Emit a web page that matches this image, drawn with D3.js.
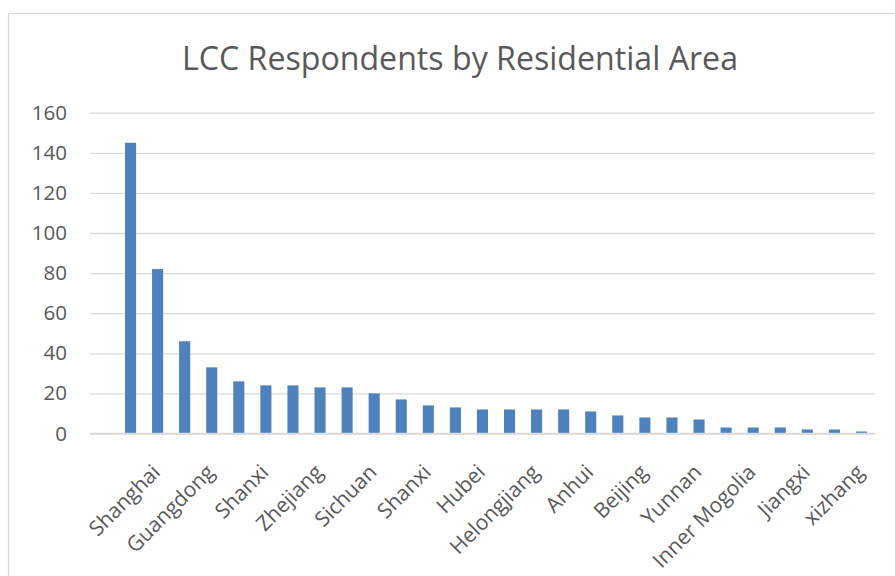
<!DOCTYPE html>
<html>
<head>
<meta charset="utf-8">
<script src="https://cdn.jsdelivr.net/npm/d3@7"></script>
<style>
  html, body { margin: 0; padding: 0; background: #fff; }
  svg { display: block; font-family: "Open Sans", sans-serif; }
</style>
</head>
<body>
<svg id="chart" width="895" height="576"></svg>
<script>
// Respondents per province (in the order they are ranked)
const regions = [
  "Shanghai", "Jiangsu", "Guangdong", "Shandong", "Shanxi", "Henan", "Zhejiang",
  "Hunan", "Sichuan", "Fujian", "Shanxi ", "Liaoning", "Hubei", "Hebei",
  "Helongjiang", "Chongqing", "Anhui", "Tianjin", "Beijing", "Guangxi", "Yunnan",
  "Jilin", "Inner Mogolia", "Guizhou", "Jiangxi", "Gansu", "xizhang", "Hainan"
];
const respondents = [
  145, 82, 46, 33, 26, 24, 24, 23, 23, 20, 17, 14, 13, 12,
  12, 12, 12, 11, 9, 8, 8, 7, 3, 3, 3, 2, 2, 1
];
const yTicks = [0, 20, 40, 60, 80, 100, 120, 140, 160];
const title = "LCC Respondents by Residential Area";

const svg = d3.select("#chart");

// outer chart frame
svg.append("rect")
  .attr("x", 8.5).attr("y", 13.5)
  .attr("width", 900).attr("height", 600)
  .attr("fill", "#fff").attr("stroke", "#d9d9d9").attr("stroke-width", 1.3);

const gridLeft = 90, gridRight = 875;
const x = d3.scaleBand().domain(d3.range(regions.length))
  .range([117, 875]).paddingInner(0.59).paddingOuter(0.295);
const y = d3.scaleLinear().domain([0, 160]).range([433.5, 112.7]);

// title
svg.append("text")
  .attr("x", 460).attr("y", 69.5)
  .attr("text-anchor", "middle")
  .attr("fill", "#595959")
  .attr("font-size", 33)
  .attr("textLength", 556).attr("lengthAdjust", "spacingAndGlyphs")
  .text(title);

// horizontal gridlines
const gy = svg.append("g").attr("transform", `translate(${gridRight},0)`)
  .call(d3.axisRight(y).tickValues(yTicks).tickSize(-(gridRight - gridLeft)).tickFormat(""));
gy.select(".domain").remove();
gy.selectAll(".tick line").attr("stroke", "#d9d9d9").attr("stroke-width", 1.3);

// value axis labels
const gl = svg.append("g").attr("transform", `translate(${gridLeft},0)`)
  .call(d3.axisLeft(y).tickValues(yTicks).tickSize(0).tickPadding(23));
gl.select(".domain").remove();
gl.selectAll(".tick text")
  .attr("fill", "#595959").attr("font-size", 20.5)
  .attr("font-family", "'Open Sans', sans-serif");

// bars
svg.append("g").selectAll("rect")
  .data(respondents)
  .join("rect")
  .attr("x", (d, i) => x(i))
  .attr("width", x.bandwidth())
  .attr("y", d => y(d))
  .attr("height", d => y(0) - y(d))
  .attr("fill", "#4f81bd");

// category axis: every other label, rotated
const gx = svg.append("g").attr("transform", `translate(0,${y(0)})`)
  .call(d3.axisBottom(x).tickSize(0)
    .tickValues(d3.range(0, regions.length, 2))
    .tickFormat(i => regions[i].trim()));
gx.select(".domain").attr("stroke", "#d9d9d9").attr("stroke-width", 1.3)
  .attr("d", `M${gridLeft},0H${gridRight}`);
gx.selectAll(".tick text")
  .attr("fill", "#595959").attr("font-size", 21)
  .attr("font-family", "'Open Sans', sans-serif")
  .attr("text-anchor", "end")
  .attr("dy", null).attr("y", 0)
  .attr("transform", "translate(31,40) rotate(-45)");
</script>
</body>
</html>
